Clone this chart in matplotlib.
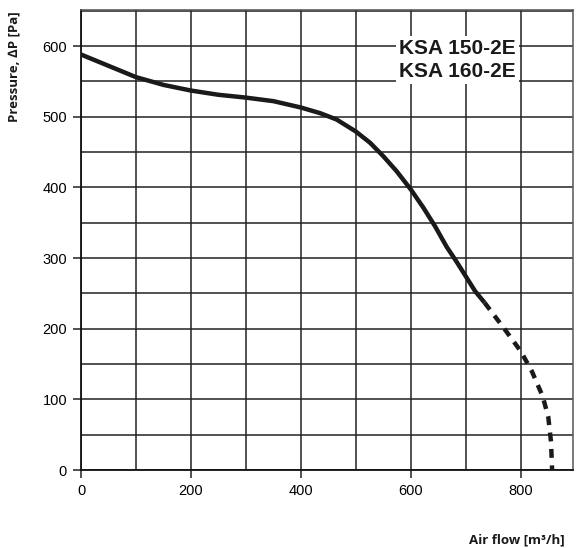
import matplotlib
matplotlib.use("Agg")
import matplotlib.pyplot as plt
from matplotlib.ticker import MultipleLocator

# Data
flow_solid = [0, 25, 50, 75, 100, 150, 200, 250, 300, 350, 400, 435, 465, 500, 526, 550,
              574, 600, 623, 644, 665, 683, 700, 717, 734]
press_solid = [588, 580, 572, 564, 556, 545, 537, 531, 527, 522, 513, 505, 496, 479, 463, 444,
               423, 397, 371, 345, 316, 295, 274, 253, 237]
flow_dash = [734, 770, 800, 820, 840, 850, 855, 857]
press_dash = [237, 200, 168, 140, 104, 75, 40, 0]
x_ticks = [0, 200, 400, 600, 800]
y_ticks = [0, 100, 200, 300, 400, 500, 600]
model_labels = ["KSA 150-2E", "KSA 160-2E"]

fig = plt.figure(figsize=(5.76, 5.48), dpi=100)
ax = fig.add_axes([81/576, 1 - 470/548, (573-81)/576, (470-10)/548])

ax.set_xlim(0, 895)
ax.set_ylim(0, 651)

ax.plot(flow_solid, press_solid, color="#1a1a1a", lw=3.2, solid_capstyle="butt",
        solid_joinstyle="round", zorder=3)
ax.plot(flow_dash, press_dash, color="#1a1a1a", lw=3.2, dashes=(2.0, 1.7), zorder=3)

ax.set_xticks(x_ticks)
ax.set_yticks(y_ticks)
ax.xaxis.set_minor_locator(MultipleLocator(100))
ax.yaxis.set_minor_locator(MultipleLocator(50))
ax.grid(True, which="both", color="#222222", lw=1.1)
ax.set_axisbelow(True)
ax.tick_params(which="major", direction="out", length=6, width=1.1, color="#222222",
               labelsize=10.5, pad=4)
ax.tick_params(which="minor", length=0)
for lab in ax.get_xticklabels() + ax.get_yticklabels():
    lab.set_fontfamily("Liberation Sans")

for s in ["left", "bottom"]:
    ax.spines[s].set_color("#111111")
    ax.spines[s].set_linewidth(1.3)
for s in ["top", "right"]:
    ax.spines[s].set_color("#555555")
    ax.spines[s].set_linewidth(1.1)

ax.text(685, 580, "\n".join(model_labels), ha="center", va="center",
        fontsize=15, fontweight="bold", family="Liberation Sans", color="#1a1a1a",
        linespacing=1.25, zorder=5,
        bbox=dict(boxstyle="square,pad=0.15", fc="white", ec="none"))

fig.text(565/576, 1 - 540/548, "Air flow [m³/h]", ha="right", va="center",
         fontsize=9.5, fontweight="bold", family="Open Sans", color="#1a1a1a")
fig.text(14/576, 1 - 11/548, "Pressure, ∆P [Pa]", ha="center", va="top", rotation=90,
         fontsize=9.5, fontweight="bold", family=["Open Sans", "DejaVu Sans"], color="#1a1a1a")

fig.savefig("out.png", dpi=100)
